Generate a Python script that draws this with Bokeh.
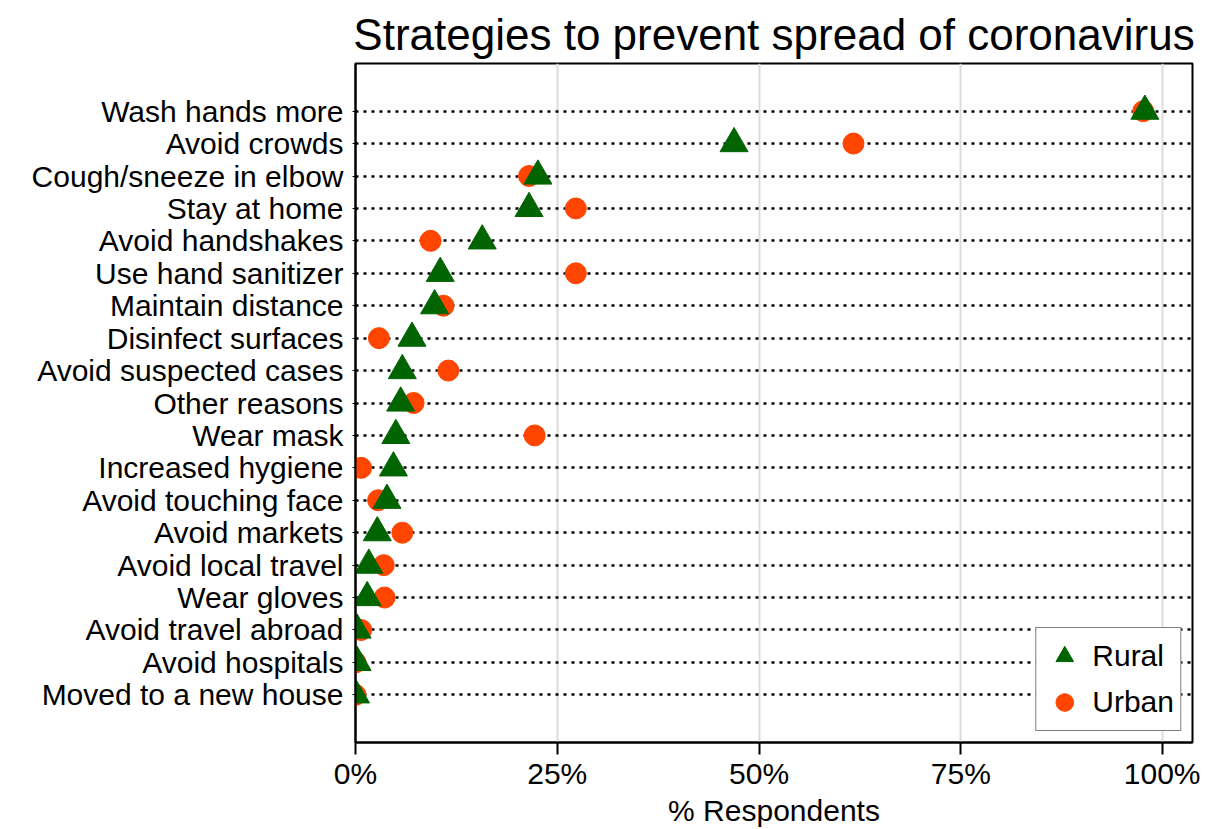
from bokeh.plotting import figure
from bokeh.models import (FactorRange, Range1d, FixedTicker, PrintfTickFormatter,
                          Legend, LegendItem, ColumnDataSource)
from bokeh.embed import file_html
from bokeh.resources import INLINE

strategies = [
    "Wash hands more", "Avoid crowds", "Cough/sneeze in elbow", "Stay at home",
    "Avoid handshakes", "Use hand sanitizer", "Maintain distance", "Disinfect surfaces",
    "Avoid suspected cases", "Other reasons", "Wear mask", "Increased hygiene",
    "Avoid touching face", "Avoid markets", "Avoid local travel", "Wear gloves",
    "Avoid travel abroad", "Avoid hospitals", "Moved to a new house",
]
rural = [97.8, 46.9, 22.6, 21.5, 15.7, 10.5, 9.8, 7.0, 5.8, 5.6, 5.0, 4.7, 3.9, 2.7,
         1.65, 1.45, 0.2, 0.2, 0.0]
urban = [97.6, 61.7, 21.5, 27.3, 9.3, 27.3, 10.9, 2.9, 11.5, 7.2, 22.2, 0.7, 2.8, 5.8,
         3.5, 3.6, 0.7, 0.0, 0.0]
x_ticks = [0, 25, 50, 75, 100]

FONT = "Liberation Sans"
src = ColumnDataSource(dict(strategy=strategies, rural=rural, urban=urban))

p = figure(width=1200, height=829, output_backend="svg", toolbar_location=None,
           y_range=FactorRange(factors=strategies[::-1], range_padding=0.97,
                               range_padding_units="absolute"),
           x_range=Range1d(0, 103.7))
p.min_border_left = 355
p.min_border_right = 8
p.min_border_top = 63
p.min_border_bottom = 86

p.title.text = "Strategies to prevent spread of coronavirus"
p.title.text_font = FONT
p.title.text_font_size = "44px"
p.title.text_font_style = "normal"
p.title.text_color = "black"
p.title.align = "center"
p.title.standoff = 10

p.outline_line_color = "black"
p.outline_line_width = 2
p.background_fill_color = "white"
p.border_fill_color = "white"

# grids
p.xgrid.ticker = FixedTicker(ticks=x_ticks)
p.xgrid.grid_line_color = "#dcdcdc"
p.xgrid.grid_line_width = 2
p.ygrid.grid_line_color = "black"
p.ygrid.grid_line_width = 2.5
p.ygrid.grid_line_dash = "3 5"

# x axis
xa = p.xaxis[0]
xa.ticker = FixedTicker(ticks=x_ticks)
xa.formatter = PrintfTickFormatter(format="%d%%")
xa.axis_label = "% Respondents"
xa.axis_label_text_font = FONT
xa.axis_label_text_font_size = "30px"
xa.axis_label_text_font_style = "normal"
xa.axis_label_text_color = "black"
xa.axis_label_standoff = 1
xa.major_label_text_font = FONT
xa.major_label_text_font_size = "30px"
xa.major_label_text_color = "black"
xa.major_label_standoff = 2
xa.major_tick_out = 12
xa.major_tick_in = 0
xa.minor_tick_out = 0
xa.minor_tick_in = 0
xa.axis_line_color = "black"
xa.axis_line_width = 2
xa.major_tick_line_width = 2
xa.major_tick_line_color = "black"

# y axis
ya = p.yaxis[0]
ya.major_label_text_font = FONT
ya.major_label_text_font_size = "30px"
ya.major_label_text_color = "black"
ya.major_label_standoff = 9
ya.major_tick_out = 3
ya.major_tick_in = 0
ya.major_tick_line_color = "black"
ya.axis_line_color = "black"
ya.axis_line_width = 2

circ = p.scatter(x="urban", y="strategy", source=src, marker="circle", size=21,
                 fill_color="#ff4500", line_color="#ff4500")
tri = p.scatter(x="rural", y="strategy", source=src, marker="triangle", size=28,
                fill_color="#006400", line_color="#006400")

legend = Legend(items=[LegendItem(label="Rural", renderers=[tri]),
                       LegendItem(label="Urban", renderers=[circ])],
                location="bottom_right")
legend.label_text_font = FONT
legend.label_text_font_size = "30px"
legend.label_text_color = "black"
legend.glyph_height = 44
legend.glyph_width = 44
legend.label_standoff = 6
legend.spacing = 2
legend.padding = 6
legend.margin = 11
legend.border_line_color = "black"
legend.border_line_width = 1.5
legend.background_fill_alpha = 1.0
p.add_layout(legend)

open("out.html", "w").write(file_html(p, INLINE))
